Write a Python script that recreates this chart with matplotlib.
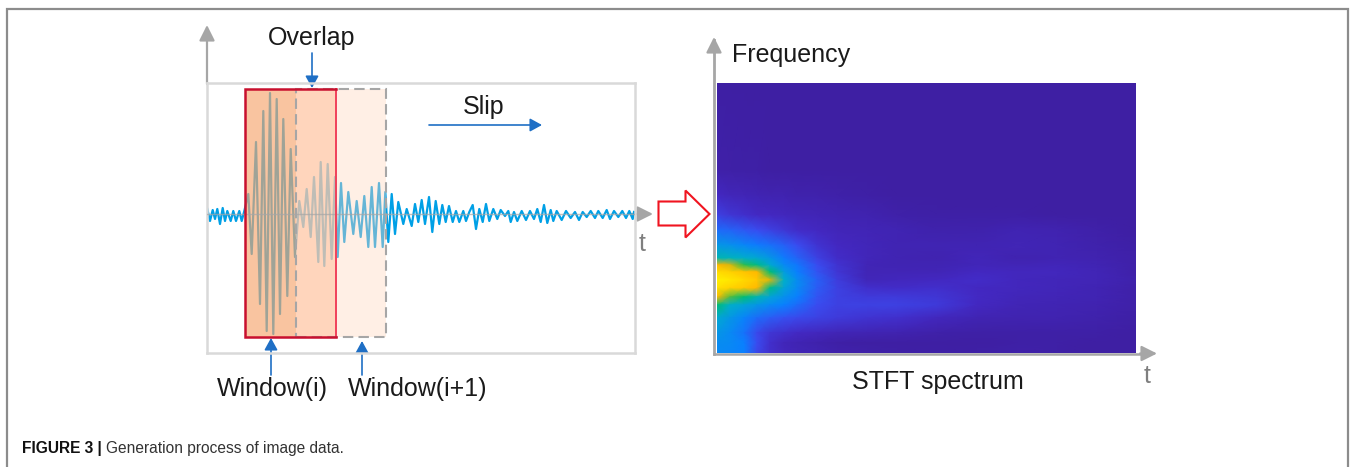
import matplotlib
matplotlib.use("Agg")
import matplotlib.pyplot as plt
import numpy as np
from matplotlib.colors import LinearSegmentedColormap
from matplotlib.patches import Rectangle, Polygon

plt.rcParams['font.family'] = ['Liberation Sans', 'DejaVu Sans']

W, H = 1354, 467

# Signal: alternating extrema (time, amplitude)
signal_t = [207.3, 210, 212.7, 215, 217.3, 220, 222.7, 225, 227.3, 230.7, 233.3, 236, 239.3, 241.7, 244.3,
            248.3, 251.7, 256, 260, 263.3, 266.7, 270, 273.3, 276.7, 280, 283.3, 287.3, 290.7, 295, 299.3,
            303.3, 306.7, 310.7, 314, 318.3, 320.7, 324.3, 327.7, 331.7, 335, 337.7, 341, 344.3, 348.3,
            353.3, 356.7, 360.7, 364.3, 368.3, 371.7, 375, 379, 382.7, 385.3, 388.3, 391.7, 395, 398.3,
            403.3, 406.7, 411.7, 415, 418.3, 421.7, 425, 429, 432.3, 435.7, 439.3, 442.3, 445.7, 449,
            452.7, 456, 459.3, 463.3, 466, 469.3, 472.7, 476, 479.3, 482.7, 486, 489.3, 493.3, 497.3,
            500.7, 505, 508.3, 510.7, 514, 517.3, 521.7, 526, 530, 534, 537.3, 540.7, 544, 547.3, 550.7,
            553.3, 556.7, 561.7, 566, 570.7, 575, 579, 582.7, 586.7, 590.7, 595, 598.3, 602.7, 606.7,
            610, 614, 618.3, 622.3, 626, 629.3, 632.7, 634]
signal_a = [5, -7, 4, -5, 5, -10, 6, -7, 3, -7, 3, -7, 3, -7, 3,
            20, -40, 72, -90, 103, -117, 121, -120, 115, -100, 95, -82, 65, -43, 13,
            -13, 25, -23, 37, -48, 52, -52, 50, -45, 37, -43, 31, -28, 22,
            -20, 13, -23, 18, -33, 27, -33, 31, -33, 22, -28, 20, -20, 12,
            -10, 5, -12, 10, -8, 14, -10, 17, -18, 13, -10, 9, -8, 8,
            -8, 3, -8, 3, -7, 2, 9, -15, 5, -8, 10, -7, 5, -5,
            4, -2, 3, -8, 2, -7, 3, -6, 3, -5, 5, -8, 9, -9, 4,
            -7, 3, -6, 3, -4, 2, -6, 2, -3, 3, -4, 3, -4, 4,
            -5, 3, -3, 3, -4, 3, -5, 2]

# Spectrum: estimated intensity on an uneven grid
spec_t = [0, 13, 27, 40, 53, 67, 80, 100, 120, 150, 180, 220, 260, 300, 340, 380, 419]
spec_f = [83, 170, 195, 215, 230, 245, 258, 265, 272, 280, 288, 297, 305, 318, 333, 343, 353]
spec_row_0 = [0] * 17
spec_row_1 = [.02, .015, .01, .01, 0, 0, 0, 0, 0, 0, 0, 0, 0, 0, 0, 0, 0]
spec_row_2 = [.09, .07, .06, .05, .04, .04, .03, .03, .02, .01, 0, 0, 0, 0, 0, 0, 0]
spec_row_3 = [.17, .14, .12, .10, .09, .08, .07, .06, .05, .04, .02, .01, .01, .01, 0, 0, 0]
spec_row_4 = [.28, .26, .23, .20, .17, .14, .11, .09, .07, .06, .05, .03, .03, .05, .04, .02, 0]
spec_row_5 = [.40, .38, .35, .32, .29, .25, .20, .13, .09, .07, .05, .05, .05, .06, .05, .03, .01]
spec_row_6 = [.50, .49, .47, .45, .40, .32, .26, .17, .11, .07, .05, .04, .07, .04, .05, .04, .02]
spec_row_7 = [.72, .68, .60, .54, .46, .36, .31, .20, .13, .06, .05, .05, .07, .06, .07, .05, .02]
spec_row_8 = [.90, .84, .78, .72, .56, .42, .33, .22, .14, .06, .06, .06, .09, .08, .08, .06, .02]
spec_row_9 = [1.0, .95, .88, .80, .68, .48, .37, .25, .16, .07, .08, .09, .11, .08, .07, .06, .03]
spec_row_10 = [.92, .85, .80, .72, .54, .44, .36, .24, .17, .12, .11, .12, .09, .08, .07, .05, .02]
spec_row_11 = [.72, .62, .56, .50, .44, .38, .33, .22, .17, .15, .15, .14, .10, .07, .06, .05, .02]
spec_row_12 = [.56, .48, .44, .40, .36, .33, .28, .20, .17, .17, .17, .15, .09, .06, .05, .04, .02]
spec_row_13 = [.46, .40, .34, .28, .24, .21, .19, .17, .15, .13, .12, .08, .05, .04, .04, .03, .01]
spec_row_14 = [.40, .36, .30, .19, .14, .12, .10, .08, .06, .05, .04, .02, .01, .01, .01, .01, 0]
spec_row_15 = [.37, .36, .33, .20, .12, .07, .05, .03, .01, 0, 0, 0, 0, .01, .01, 0, 0]
spec_row_16 = [.36, .35, .33, .18, .12, .08, .06, .05, .03, .02, .01, .01, .01, .02, .01, 0, 0]
spec_rows = [spec_row_0, spec_row_1, spec_row_2, spec_row_3, spec_row_4, spec_row_5, spec_row_6,
             spec_row_7, spec_row_8, spec_row_9, spec_row_10, spec_row_11, spec_row_12, spec_row_13,
             spec_row_14, spec_row_15, spec_row_16]

cmap = LinearSegmentedColormap.from_list("stft", [
    (0.00, "#3E1FA3"), (0.10, "#4329C4"), (0.20, "#3A4CF0"), (0.33, "#0A80FF"),
    (0.48, "#00B0C8"), (0.58, "#00C060"), (0.70, "#FFB400"), (1.00, "#FFF000")])

GREY = "#A6A6A6"
LIGHT = "#D9D9D9"
BLUE = "#1F6FC5"

fig = plt.figure(figsize=(W / 100, H / 100), dpi=100, facecolor="white")


def px_axes(x0, y0, x1, y1, **kw):
    return fig.add_axes([x0 / W, 1 - y1 / H, (x1 - x0) / W, (y1 - y0) / H], **kw)


# Layout axes in image pixels
ax = fig.add_axes([0, 0, 1, 1])
ax.set_xlim(0, W)
ax.set_ylim(H, 0)
ax.axis("off")
ax.plot([6.5, 6.5, 1347.5, 1347.5], [H, 9, 9, H], color="#8C8C8C", lw=1.6, solid_joinstyle="miter")

# Signal panel
sig = px_axes(207, 83, 635, 353)
sig.set_xlim(207, 635)
sig.set_ylim(-139, 131)
sig.set_facecolor("none")
for s in sig.spines.values():
    s.set_color(LIGHT)
    s.set_linewidth(1.8)
sig.set_xticks([])
sig.set_yticks([])
sig.plot(signal_t, signal_a, color="#00A0E6", lw=1.6, zorder=2, solid_joinstyle="round")
sig.add_patch(Rectangle((245, -123), 51, 248, fc=(246/255, 165/255, 109/255), alpha=0.65, ec="none", zorder=3))
sig.add_patch(Rectangle((296, -123), 40, 248, fc=(1, 199/255, 166/255), alpha=0.75, ec="none", zorder=3))
sig.add_patch(Rectangle((336, -123), 49.5, 248, fc=(1, 215/255, 192/255), alpha=0.40, ec="none", zorder=3))
sig.plot([207, 635], [0, 0], color=GREY, lw=1.0, alpha=0.7, zorder=4)
sig.add_patch(Rectangle((296, -123), 89.5, 248, fc="none", ec=GREY, lw=1.5, ls=(0, (5, 2.5)), zorder=5))
sig.plot([336, 336], [-123, 125], color="#F0405A", lw=1.4, zorder=6)
sig.plot([336, 245, 245, 336], [125, 125, -123, -123], color="#C8102E", lw=1.8, zorder=6,
         solid_joinstyle="miter")

# Spectrum panel
spec = px_axes(717, 83, 1136, 353)
spec.pcolormesh(spec_t, spec_f, np.array(spec_rows), cmap=cmap, vmin=0, vmax=1,
                shading="gouraud", rasterized=True)
spec.set_xlim(0, 419)
spec.set_ylim(353, 83)
spec.axis("off")


def arrow(x0, y0, x1, y1, color, lw, head=(9, 4.5)):
    ax.annotate("", xy=(x1, y1), xytext=(x0, y0), zorder=8,
                arrowprops=dict(arrowstyle=f"-|>,head_length={head[0] * 0.72 / lw},head_width={head[1] * 0.72 / lw}",
                                color=color, lw=lw, shrinkA=0, shrinkB=0, mutation_scale=lw))


# Axes arrows
arrow(207, 84, 207, 25, GREY, 1.6, (13, 6.5))
arrow(630, 214, 653, 214, GREY, 1.6, (13, 6.5))
ax.plot([714, 714], [353.5, 40], color=GREY, lw=2, zorder=7)
arrow(714, 50, 714, 37, GREY, 1.6, (13, 6.5))
ax.plot([714, 1146], [353.5, 353.5], color=GREY, lw=1.8, zorder=7)
arrow(1140, 353.5, 1157, 353.5, GREY, 1.6, (13, 6.5))

# Annotation arrows
arrow(312, 53, 312, 88, BLUE, 1.2, (10, 5.5))
arrow(429, 125, 542, 125, BLUE, 1.2, (10, 5.5))
arrow(271, 375, 271, 338, BLUE, 1.2, (10, 5.5))
arrow(362, 375, 362, 341, BLUE, 1.2, (10, 5.5))

ax.add_patch(Polygon([(658.5, 201.5), (685.5, 201.5), (685.5, 190.5), (709.5, 214), (685.5, 237.5),
                      (685.5, 225.5), (658.5, 225.5)], closed=True, fc="white", ec="#F01420", lw=1.5, zorder=8))

TXT = "#1A1A1A"
FS = 18
ax.text(312, 38, "Overlap", fontsize=FS, color=TXT, ha="center", va="center")
ax.text(483.5, 107, "Slip", fontsize=FS, color=TXT, ha="center", va="center")
ax.text(272, 389, "Window(i)", fontsize=FS, color=TXT, ha="center", va="center")
ax.text(417.5, 389, "Window(i+1)", fontsize=FS, color=TXT, ha="center", va="center")
ax.text(791, 55, "Frequency", fontsize=FS, color=TXT, ha="center", va="center")
ax.text(937.5, 382, "STFT spectrum", fontsize=FS, color=TXT, ha="center", va="center")
ax.text(642, 244, "t", fontsize=FS, color="#7F7F7F", ha="center", va="center")
ax.text(1147.5, 376, "t", fontsize=FS, color="#7F7F7F", ha="center", va="center")

cap = ax.text(22, 448, "FIGURE 3 | ", fontsize=11.2, fontweight="bold", color="#111111", va="center", ha="left")
fig.canvas.draw()
bb = cap.get_window_extent()
ax.text(bb.x1, 448, "Generation process of image data.", fontsize=11.2, color="#333333", va="center", ha="left")

fig.savefig("out.png", dpi=100, facecolor="white")
